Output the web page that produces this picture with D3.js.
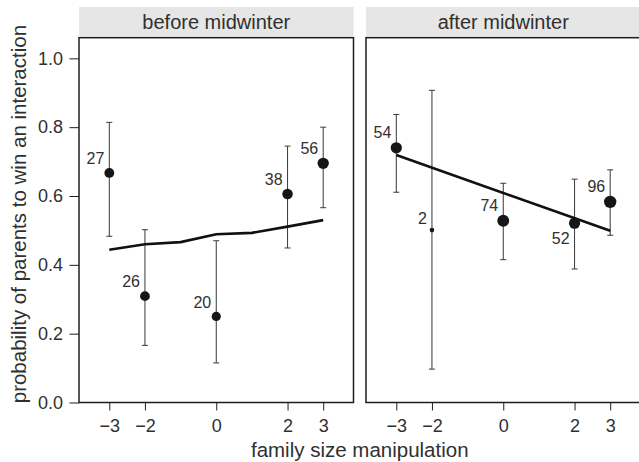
<!DOCTYPE html>
<html>
<head>
<meta charset="utf-8">
<script src="https://cdn.jsdelivr.net/npm/d3@7"></script>
<style>
  html, body { margin: 0; padding: 0; background: #fff; }
  svg { display: block; font-family: "Liberation Sans", Arial, Helvetica, sans-serif; }
</style>
</head>
<body>
<svg id="chart" width="639" height="462"></svg>
<script>
// ---- data ----
const panelTitles = ["before midwinter", "after midwinter"];
const xTicks = [-3, -2, 0, 2, 3];
const yTicks = [0, 0.2, 0.4, 0.6, 0.8, 1.0];

const beforeX  = [-3, -2, 0, 2, 3];
const beforeP  = [0.667, 0.309, 0.250, 0.606, 0.695];
const beforeLo = [0.483, 0.166, 0.115, 0.449, 0.566];
const beforeHi = [0.814, 0.502, 0.470, 0.745, 0.800];
const beforeN  = [27, 26, 20, 38, 56];
const beforeLabelPos = ["above", "above", "above", "above", "above"];
const beforeFitX = [-3, -2, -1, 0, 1, 2, 3];
const beforeFitY = [0.444, 0.460, 0.466, 0.489, 0.493, 0.511, 0.530];

const afterX  = [-3, -2, 0, 2, 3];
const afterP  = [0.740, 0.501, 0.528, 0.521, 0.583];
const afterLo = [0.611, 0.097, 0.415, 0.388, 0.486];
const afterHi = [0.837, 0.907, 0.637, 0.649, 0.676];
const afterN  = [54, 2, 74, 52, 96];
const afterLabelPos = ["above", "above", "above", "below", "above"];
const afterFitX = [-3, 3];
const afterFitY = [0.719, 0.499];

// ---- layout ----
const svg = d3.select("#chart");
const panelW = 274.5, panelTop = 37.7, panelBottom = 402.5;
const panelLefts = [79, 366];
const stripTop = 7;
const ink = "#1e1e1e";
const textInk = "#303030";

const y = d3.scaleLinear().domain([0, 1.06]).range([panelBottom, panelTop]);
const rScale = d3.scaleLog().domain([2, 96]).range([2.3, 6.2]);

function build(xs, ps, los, his, ns, lpos) {
  return xs.map((x, i) => ({x, p: ps[i], lo: los[i], hi: his[i], n: ns[i], pos: lpos[i]}));
}
const panels = [
  {title: panelTitles[0], pts: build(beforeX, beforeP, beforeLo, beforeHi, beforeN, beforeLabelPos),
   fit: beforeFitX.map((x, i) => ({x, y: beforeFitY[i]}))},
  {title: panelTitles[1], pts: build(afterX, afterP, afterLo, afterHi, afterN, afterLabelPos),
   fit: afterFitX.map((x, i) => ({x, y: afterFitY[i]}))}
];

panels.forEach((pan, pi) => {
  const left = panelLefts[pi];
  const x = d3.scaleLinear().domain([-3.85, 3.85]).range([left, left + panelW]);
  const g = svg.append("g");

  // strip
  g.append("rect").attr("x", left).attr("y", stripTop)
    .attr("width", panelW).attr("height", panelTop - stripTop)
    .attr("fill", "#e6e6e6");
  g.append("text").attr("x", left + panelW / 2).attr("y", 28.5)
    .attr("text-anchor", "middle").attr("font-size", 20).attr("fill", textInk)
    .text(pan.title);

  // x axis
  const xa = g.append("g").attr("transform", `translate(0,${panelBottom})`)
    .call(d3.axisBottom(x).tickValues(xTicks).tickSize(8).tickPadding(8.5).tickFormat(d3.format("d")));
  xa.select(".domain").remove();
  xa.selectAll("line").attr("stroke", ink);
  xa.selectAll("text").attr("font-size", 18).attr("fill", textInk).style("font-family", "inherit");

  if (pi === 0) {
    const ya = g.append("g").attr("transform", `translate(${left},0)`)
      .call(d3.axisLeft(y).tickValues(yTicks).tickSize(9.5).tickPadding(6.5).tickFormat(d3.format(".1f")));
    ya.select(".domain").remove();
    ya.selectAll("line").attr("stroke", ink);
    ya.selectAll("text").attr("font-size", 18).attr("fill", textInk).style("font-family", "inherit");
  }

  // error bars
  const eb = g.append("g").attr("stroke", "#383838").attr("stroke-width", 1);
  pan.pts.forEach(d => {
    eb.append("line").attr("x1", x(d.x)).attr("x2", x(d.x)).attr("y1", y(d.lo)).attr("y2", y(d.hi));
    [d.lo, d.hi].forEach(v => {
      eb.append("line").attr("x1", x(d.x) - 3).attr("x2", x(d.x) + 3).attr("y1", y(v)).attr("y2", y(v));
    });
  });

  // fitted line
  g.append("path").datum(pan.fit)
    .attr("d", d3.line().x(d => x(d.x)).y(d => y(d.y)))
    .attr("fill", "none").attr("stroke", "#111").attr("stroke-width", 2.6);

  // points
  g.selectAll("circle.pt").data(pan.pts).join("circle")
    .attr("class", "pt")
    .attr("cx", d => x(d.x)).attr("cy", d => y(d.p)).attr("r", d => rScale(d.n))
    .attr("fill", "#161616");

  // n labels
  g.selectAll("text.nl").data(pan.pts).join("text")
    .attr("class", "nl")
    .attr("x", d => x(d.x) - 5)
    .attr("y", d => d.pos === "below" ? y(d.p) + rScale(d.n) + 15.5 : y(d.p) - rScale(d.n) - 4)
    .attr("text-anchor", "end").attr("font-size", 16).attr("fill", textInk)
    .text(d => d.n);

  // panel border
  g.append("rect").attr("x", left).attr("y", panelTop)
    .attr("width", panelW).attr("height", panelBottom - panelTop)
    .attr("fill", "none").attr("stroke", ink).attr("stroke-width", 1.5);
});

// axis titles
svg.append("text").attr("x", (panelLefts[0] + panelLefts[1] + panelW) / 2).attr("y", 457)
  .attr("text-anchor", "middle").attr("font-size", 20.5).attr("fill", textInk)
  .text("family size manipulation");
svg.append("text")
  .attr("transform", `translate(25.5,${(panelTop + panelBottom) / 2 - 6}) rotate(-90)`)
  .attr("text-anchor", "middle").attr("font-size", 20.5).attr("fill", textInk)
  .text("probability of parents to win an interaction");
</script>
</body>
</html>
